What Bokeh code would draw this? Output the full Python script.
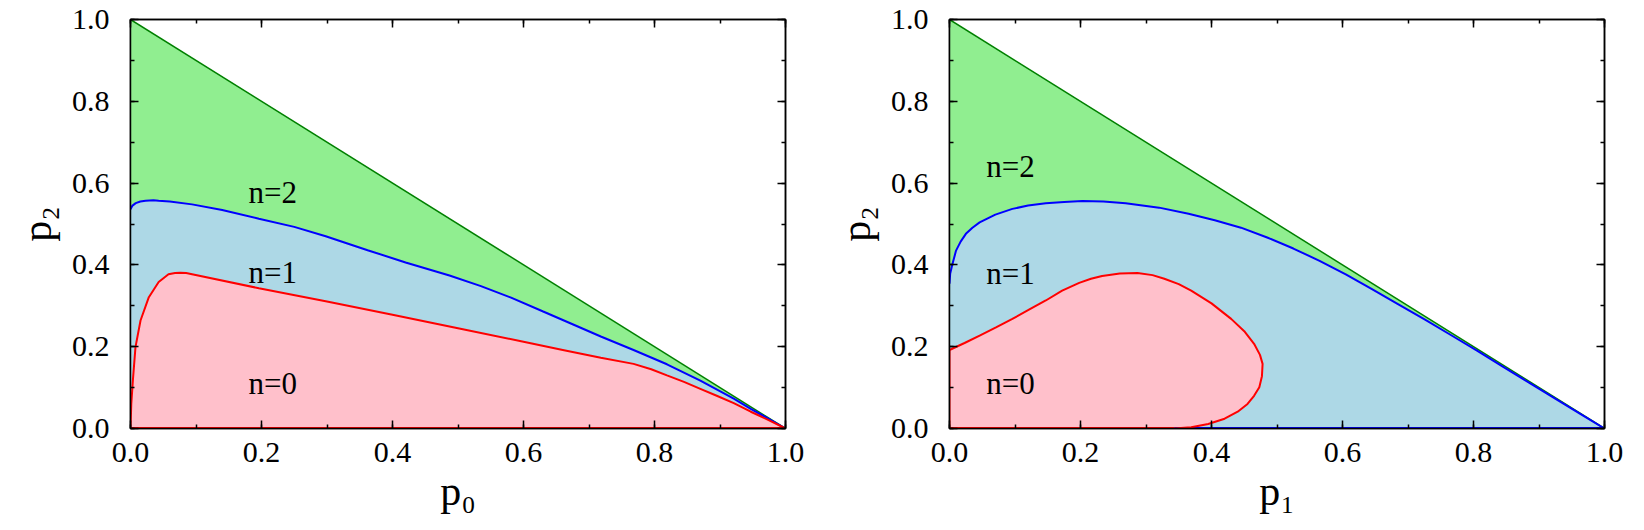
from bokeh.plotting import figure
from bokeh.layouts import row
from bokeh.models import Range1d, LinearAxis, SingleIntervalTicker, PrintfTickFormatter, CustomJSTickFormatter
from bokeh.embed import file_html
from bokeh.resources import INLINE
from bokeh.core.properties import value

# ---------------- data ----------------
# simplex boundary (p2 = 1 - p)
edge_x = [0.0, 1.0]
edge_y = [1.0, 0.0]

# left panel (x = p0)
left_blue_x = [0.0, 0.003, 0.008, 0.015, 0.023, 0.035, 0.043, 0.06, 0.094, 0.14, 0.196, 0.25, 0.298, 0.362, 0.42, 0.487,
               0.535, 0.581, 0.63, 0.682, 0.718, 0.768, 0.819, 0.870, 0.921, 0.947, 0.975, 1.0]
left_blue_y = [0.536, 0.545, 0.551, 0.555, 0.557, 0.558, 0.557, 0.555, 0.548, 0.534, 0.513, 0.493, 0.470, 0.436, 0.406, 0.374,
               0.348, 0.320, 0.286, 0.250, 0.225, 0.192, 0.157, 0.117, 0.073, 0.048, 0.023, 0.0]
left_red_x = [0.0, 0.0012, 0.0036, 0.0076, 0.0153, 0.028, 0.043, 0.058, 0.068, 0.076, 0.085, 0.094, 0.196, 0.298, 0.400,
              0.500, 0.600, 0.660, 0.718, 0.768, 0.795, 0.819, 0.845, 0.870, 0.895, 0.921, 0.947, 0.975, 1.0]
left_red_y = [0.0, 0.060, 0.117, 0.199, 0.264, 0.321, 0.358, 0.377, 0.380, 0.381, 0.380, 0.377, 0.343, 0.311, 0.278,
              0.245, 0.212, 0.192, 0.173, 0.158, 0.145, 0.130, 0.114, 0.097, 0.080, 0.062, 0.041, 0.020, 0.0]

# right panel (x = p1)
right_blue_x = [0.0, 0.001, 0.004, 0.010, 0.017, 0.025, 0.035, 0.046, 0.07, 0.096, 0.12, 0.147, 0.175, 0.203, 0.235,
                0.269, 0.32, 0.365, 0.405, 0.445, 0.485, 0.525, 0.565, 0.605, 0.645, 0.686, 0.726, 0.766, 0.806,
                0.846, 0.886, 0.926, 0.963, 1.0]
right_blue_y = [0.354, 0.378, 0.399, 0.435, 0.457, 0.476, 0.491, 0.504, 0.523, 0.537, 0.545, 0.551, 0.554, 0.556, 0.555,
                0.551, 0.540, 0.525, 0.509, 0.491, 0.467, 0.440, 0.410, 0.377, 0.341, 0.303, 0.266, 0.228, 0.190,
                0.150, 0.111, 0.072, 0.036, 0.0]
right_red_x = [0.0, 0.0, 0.023, 0.046, 0.071, 0.096, 0.122, 0.147, 0.172, 0.198, 0.216, 0.233, 0.260, 0.287, 0.310,
               0.328, 0.350, 0.369, 0.400, 0.430, 0.450, 0.465, 0.474, 0.478, 0.477, 0.473, 0.465, 0.455, 0.440,
               0.420, 0.395, 0.369, 0.343]
right_red_y = [0.0, 0.192, 0.209, 0.227, 0.247, 0.268, 0.291, 0.313, 0.337, 0.356, 0.366, 0.373, 0.379, 0.380, 0.375,
               0.366, 0.353, 0.337, 0.306, 0.268, 0.238, 0.207, 0.180, 0.158, 0.128, 0.101, 0.080, 0.060, 0.041,
               0.024, 0.011, 0.003, 0.0]

region_labels = ["n=2", "n=1", "n=0"]
left_label_x = [0.18, 0.18, 0.18]
left_label_y = [0.578, 0.381, 0.109]
right_label_x = [0.056, 0.056, 0.056]
right_label_y = [0.641, 0.380, 0.109]

tick_interval = 0.2

FONT = "'Liberation Serif', 'Times New Roman', serif"
GREEN_FILL = "#90EE90"
BLUE_FILL = "#ADD8E6"
PINK_FILL = "#FFC0CB"
GREEN_LINE = "#008000"
BLUE_LINE = "#0000FF"
RED_LINE = "#FF0000"


def style_axis(ax, labels=True):
    ax.ticker = SingleIntervalTicker(interval=tick_interval, num_minor_ticks=2)
    ax.major_tick_in = 8
    ax.major_tick_out = 0
    ax.minor_tick_in = 4
    ax.minor_tick_out = 0
    ax.major_tick_line_color = "black"
    ax.minor_tick_line_color = "black"
    ax.major_tick_line_width = 1.5
    ax.minor_tick_line_width = 1.5
    ax.axis_line_color = "black"
    ax.axis_line_width = 1.5
    ax.major_label_text_font = FONT
    ax.major_label_text_color = "black"
    if labels:
        ax.formatter = PrintfTickFormatter(format="%.1f")
        ax.major_label_text_font_size = "30px"
        ax.axis_label_text_font = FONT
        ax.axis_label_text_font_size = "42px"
        ax.axis_label_text_font_style = "normal"
        ax.axis_label_text_color = "black"
    else:
        ax.formatter = CustomJSTickFormatter(code="return ''")
        ax.major_label_text_font_size = "1px"
        ax.major_label_standoff = 0


def make_panel(xlabel, border_left, fig_width, blue_x, blue_y, red_x, red_y, lab_x, lab_y, floor_blue):
    top_b, frame_h, fig_h = 19, 409, 523
    p = figure(width=fig_width, height=fig_h, x_range=Range1d(0, 1), y_range=Range1d(0, 1),
               output_backend="svg", toolbar_location=None,
               min_border_left=border_left, min_border_right=fig_width - border_left - 655,
               min_border_top=top_b, min_border_bottom=fig_h - top_b - frame_h,
               x_axis_label=xlabel, y_axis_label="p\u2082")
    p.grid.visible = False
    p.outline_line_color = "black"
    p.outline_line_width = 1.5
    p.background_fill_color = "white"
    p.border_fill_color = "white"

    for ax in p.xaxis + p.yaxis:
        style_axis(ax)
    p.xaxis.major_label_standoff = 14
    p.yaxis.major_label_standoff = 21
    p.xaxis.axis_label_standoff = 3
    p.yaxis.axis_label_standoff = 9

    top = LinearAxis()
    style_axis(top, labels=False)
    right = LinearAxis()
    style_axis(right, labels=False)
    p.add_layout(top, "above")
    p.add_layout(right, "right")

    # filled regions
    p.patch(edge_x + [0.0], edge_y + [0.0], fill_color=GREEN_FILL, line_color=None)
    p.patch(blue_x + [0.0], blue_y + [0.0], fill_color=BLUE_FILL, line_color=None)
    p.patch(red_x, red_y, fill_color=PINK_FILL, line_color=None)

    # boundaries
    p.line(edge_x, edge_y, line_color=GREEN_LINE, line_width=1.5)
    p.line(blue_x, blue_y, line_color=BLUE_LINE, line_width=2)
    if floor_blue:
        p.line([red_x[-1], 1.0], [0.0, 0.0], line_color=BLUE_LINE, line_width=3)
    p.line(red_x + [red_x[0]], red_y + [red_y[0]], line_color=RED_LINE, line_width=2)
    p.line([red_x[0], red_x[-1]], [0.0, 0.0], line_color=RED_LINE, line_width=3)

    p.text(x=lab_x, y=lab_y, text=region_labels, text_font=value(FONT),
           text_font_size="31px", text_color="black",
           text_align="left", text_baseline="alphabetic")
    return p


p1 = make_panel("p\u2080", 130, 822, left_blue_x, left_blue_y, left_red_x, left_red_y,
                left_label_x, left_label_y, floor_blue=False)
p2 = make_panel("p\u2081", 127, 815, right_blue_x, right_blue_y, right_red_x, right_red_y,
                right_label_x, right_label_y, floor_blue=True)

layout = row(p1, p2)
open("out.html", "w").write(file_html(layout, INLINE))
